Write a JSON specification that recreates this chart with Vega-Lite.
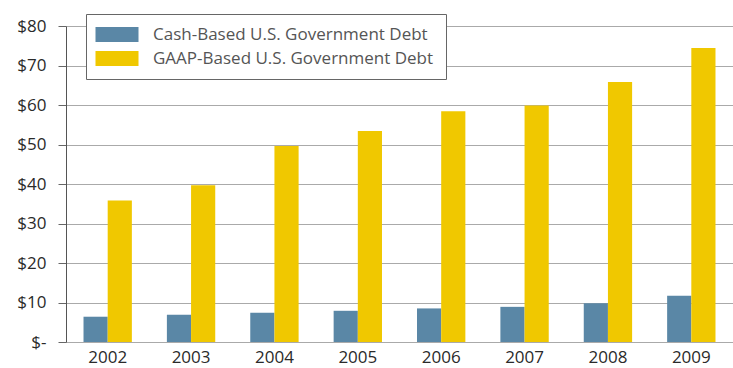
{
  "$schema": "https://vega.github.io/schema/vega-lite/v6.json",
  "autosize": {"type": "none"},
  "width": 667,
  "height": 316,
  "padding": {"left": 66, "top": 26, "right": 0, "bottom": 26},
  "background": "white",
  "data": {"values": [
    {"year": "2002", "series": "Cash-Based U.S. Government Debt", "value": 6.4},
    {"year": "2003", "series": "Cash-Based U.S. Government Debt", "value": 6.9},
    {"year": "2004", "series": "Cash-Based U.S. Government Debt", "value": 7.4},
    {"year": "2005", "series": "Cash-Based U.S. Government Debt", "value": 7.9},
    {"year": "2006", "series": "Cash-Based U.S. Government Debt", "value": 8.5},
    {"year": "2007", "series": "Cash-Based U.S. Government Debt", "value": 8.9},
    {"year": "2008", "series": "Cash-Based U.S. Government Debt", "value": 9.8},
    {"year": "2009", "series": "Cash-Based U.S. Government Debt", "value": 11.7},
    {"year": "2002", "series": "GAAP-Based U.S. Government Debt", "value": 35.8},
    {"year": "2003", "series": "GAAP-Based U.S. Government Debt", "value": 39.7},
    {"year": "2004", "series": "GAAP-Based U.S. Government Debt", "value": 49.6},
    {"year": "2005", "series": "GAAP-Based U.S. Government Debt", "value": 53.4},
    {"year": "2006", "series": "GAAP-Based U.S. Government Debt", "value": 58.4},
    {"year": "2007", "series": "GAAP-Based U.S. Government Debt", "value": 59.9},
    {"year": "2008", "series": "GAAP-Based U.S. Government Debt", "value": 65.8},
    {"year": "2009", "series": "GAAP-Based U.S. Government Debt", "value": 74.4}
  ]},
  "mark": {"type": "bar"},
  "encoding": {
    "x": {
      "field": "year", "type": "nominal",
      "scale": {"paddingInner": 0.42, "paddingOuter": 0.21},
      "axis": {
        "title": null, "labelAngle": 0, "ticks": false, "domain": false,
        "labelFont": "Open Sans", "labelFontSize": 17, "labelColor": "#2a2a2a",
        "labelPadding": 7, "labelDx": 7
      }
    },
    "xOffset": {
      "field": "series", "type": "nominal",
      "scale": {"domain": ["Cash-Based U.S. Government Debt", "GAAP-Based U.S. Government Debt"], "paddingInner": 0, "paddingOuter": 0}
    },
    "y": {
      "field": "value", "type": "quantitative",
      "scale": {"domain": [0, 80], "nice": false},
      "axis": {
        "title": null, "values": [0, 10, 20, 30, 40, 50, 60, 70, 80],
        "labelExpr": "datum.value == 0 ? '$-' : '$' + datum.value",
        "labelFont": "Open Sans", "labelFontSize": 17, "labelColor": "#2a2a2a",
        "labelPadding": 12, "tickSize": 8, "tickColor": "#666666",
        "domainColor": "#555555", "gridColor": "#aaaaaa", "grid": true
      }
    },
    "color": {
      "field": "series", "type": "nominal",
      "scale": {
        "domain": ["Cash-Based U.S. Government Debt", "GAAP-Based U.S. Government Debt"],
        "range": ["#5a87a6", "#f0c800"]
      },
      "legend": {
        "title": null, "orient": "none", "legendX": 20, "legendY": -12,
        "strokeColor": "#666666", "fillColor": "white", "padding": 12,
        "symbolType": "M-1.375,-0.94L4,-0.94L4,0.94L-1.375,0.94Z", "symbolSize": 256,
        "symbolStrokeWidth": 0, "symbolOpacity": 1,
        "labelFont": "Open Sans", "labelFontSize": 17, "labelColor": "#555555",
        "rowPadding": 6, "labelOffset": 38, "labelLimit": 400
      }
    }
  },
  "config": {
    "view": {"stroke": null},
    "axis": {"gridWidth": 1}
  }
}
